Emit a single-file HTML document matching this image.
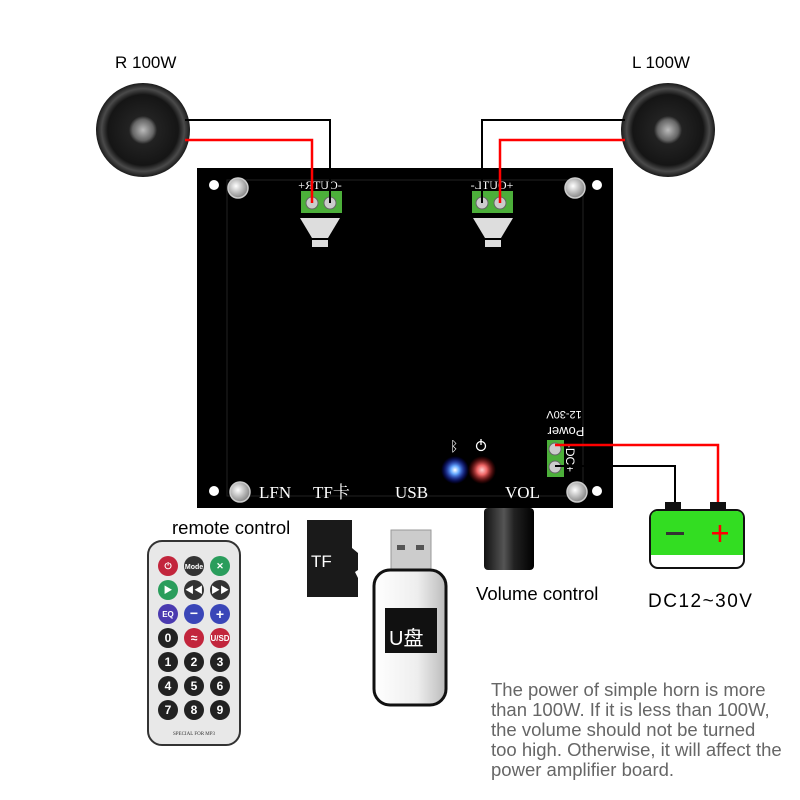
<!DOCTYPE html>
<html><head><meta charset="utf-8"><style>
html,body{margin:0;padding:0;background:#fff;}
svg{display:block}
text{font-family:"Liberation Sans","Noto Sans CJK SC",sans-serif;}
text.s{font-family:"Liberation Serif","Noto Serif CJK SC",serif;}
</style></head><body>
<svg width="800" height="800" viewBox="0 0 800 800" xmlns="http://www.w3.org/2000/svg">
<defs>
<radialGradient id="spk" cx="50%" cy="50%" r="50%">
<stop offset="0" stop-color="#bbb"/><stop offset="0.22" stop-color="#666"/><stop offset="0.3" stop-color="#222"/><stop offset="0.75" stop-color="#151515"/><stop offset="0.88" stop-color="#4a4a4a"/><stop offset="1" stop-color="#1a1a1a"/>
</radialGradient>
<radialGradient id="scr" cx="40%" cy="40%" r="60%"><stop offset="0" stop-color="#fff"/><stop offset="1" stop-color="#888"/></radialGradient>
<radialGradient id="blue" r="50%"><stop offset="0" stop-color="#fff"/><stop offset="0.3" stop-color="#6af"/><stop offset="1" stop-color="#00f" stop-opacity="0"/></radialGradient>
<radialGradient id="red" r="50%"><stop offset="0" stop-color="#fcc"/><stop offset="0.35" stop-color="#e66"/><stop offset="1" stop-color="#a00" stop-opacity="0"/></radialGradient>
<linearGradient id="knob" x1="0" x2="1"><stop offset="0" stop-color="#111"/><stop offset="0.4" stop-color="#555"/><stop offset="0.6" stop-color="#222"/><stop offset="1" stop-color="#000"/></linearGradient>
<linearGradient id="usb" x1="0" x2="1"><stop offset="0" stop-color="#fff"/><stop offset="0.6" stop-color="#eee"/><stop offset="1" stop-color="#bbb"/></linearGradient>
</defs>

<text x="115" y="68" font-size="17">R 100W</text>
<text x="632" y="68" font-size="17">L 100W</text>

<circle cx="143" cy="130" r="47" fill="url(#spk)"/>
<circle cx="668" cy="130" r="47" fill="url(#spk)"/>

<rect x="197" y="168" width="416" height="340" fill="#000"/>
<rect x="227" y="180" width="356" height="316" fill="none" stroke="#222" stroke-width="1"/>
<circle cx="214" cy="185" r="5" fill="#fff"/>
<circle cx="597" cy="185" r="5" fill="#fff"/>
<circle cx="214" cy="491" r="5" fill="#fff"/>
<circle cx="597" cy="491" r="5" fill="#fff"/>
<g fill="url(#scr)" stroke="#ccc" stroke-width="1.5">
<circle cx="238" cy="188" r="10"/><circle cx="575" cy="188" r="10"/><circle cx="240" cy="492" r="10"/><circle cx="577" cy="492" r="10"/>
</g>

<rect x="301" y="191" width="41" height="22" fill="#4caf3a"/>
<rect x="472" y="191" width="41" height="22" fill="#4caf3a"/>
<g fill="#ccc" stroke="#666"><circle cx="312" cy="203" r="6"/><circle cx="330" cy="203" r="6"/><circle cx="482" cy="203" r="6"/><circle cx="500" cy="203" r="6"/></g>
<polygon points="300,218 340,218 328,238 312,238" fill="#ddd"/>
<rect x="312" y="240" width="16" height="7" fill="#ddd"/>
<polygon points="473,218 513,218 501,238 485,238" fill="#ddd"/>
<rect x="485" y="240" width="16" height="7" fill="#ddd"/>
<text class="s" transform="translate(320,189) scale(-1,1)" font-size="12" fill="#fff" text-anchor="middle">-OUTR+</text>
<text class="s" transform="translate(492,189) scale(-1,1)" font-size="12" fill="#fff" text-anchor="middle">+OUTL-</text>

<polyline points="185,120 330,120 330,203" fill="none" stroke="#000" stroke-width="2"/>
<polyline points="185,140 312,140 312,203" fill="none" stroke="#f00" stroke-width="2.5"/>
<polyline points="625,120 482,120 482,203" fill="none" stroke="#000" stroke-width="2"/>
<polyline points="625,140 500,140 500,203" fill="none" stroke="#f00" stroke-width="2.5"/>

<rect x="547" y="440" width="17" height="37" fill="#4caf3a"/>
<circle cx="555" cy="449" r="6" fill="#ccc" stroke="#666"/>
<circle cx="555" cy="467" r="6" fill="#ccc" stroke="#666"/>
<text transform="translate(566,458) rotate(90)" font-size="12" fill="#fff" text-anchor="middle">-DC+</text>
<text transform="translate(566,427) rotate(180)" font-size="13" fill="#fff" text-anchor="middle">Power</text>
<text transform="translate(564,411) rotate(180)" font-size="11" fill="#fff" text-anchor="middle">12-30V</text>
<polyline points="555,445 718,445 718,505" fill="none" stroke="#f00" stroke-width="2.5"/>
<polyline points="555,466 675,466 675,505" fill="none" stroke="#000" stroke-width="2"/>

<circle cx="455" cy="470" r="14" fill="url(#blue)"/>
<circle cx="482" cy="470" r="14" fill="url(#red)"/>
<text x="450" y="451" font-size="14" fill="#fff">ᛒ</text>
<circle cx="481" cy="446" r="4.5" fill="none" stroke="#fff" stroke-width="1.3"/>
<line x1="481" y1="439" x2="481" y2="445" stroke="#fff" stroke-width="1.3"/>

<g font-size="17" fill="#fff">
<text class="s" x="259" y="498">LFN</text><text class="s" x="313" y="498">TF卡</text><text class="s" x="395" y="498">USB</text><text class="s" x="505" y="498">VOL</text>
</g>

<rect x="484" y="508" width="50" height="62" rx="4" fill="url(#knob)"/>
<text x="476" y="600" font-size="18.5">Volume control</text>

<rect x="665" y="502" width="16" height="10" fill="#111"/>
<rect x="710" y="502" width="16" height="10" fill="#111"/>
<rect x="650" y="510" width="94" height="58" rx="8" fill="#fff" stroke="#111" stroke-width="2"/>
<path d="M651,555 L651,518 Q651,511 658,511 L736,511 Q743,511 743,518 L743,555 Z" fill="#33dd22"/>
<rect x="666" y="532" width="18" height="3" fill="#333"/>
<rect x="712" y="532" width="16" height="2.5" fill="#f00"/>
<rect x="718.7" y="525" width="2.5" height="17" fill="#f00"/>
<text x="648" y="607" font-size="19" letter-spacing="1.5">DC12~30V</text>

<text x="172" y="534" font-size="18.5">remote control</text>
<rect x="148" y="541" width="92" height="204" rx="14" fill="#e8e8e8" stroke="#333" stroke-width="2"/>
<g font-size="9" font-weight="bold" fill="#fff" text-anchor="middle">
<circle cx="168" cy="566" r="10" fill="#c2253c"/><circle cx="194" cy="566" r="10" fill="#333"/><circle cx="220" cy="566" r="10" fill="#2a9d5c"/>
<circle cx="168" cy="590" r="10" fill="#2a9d5c"/><circle cx="194" cy="590" r="10" fill="#333"/><circle cx="220" cy="590" r="10" fill="#333"/>
<circle cx="168" cy="614" r="10" fill="#4b3ab0"/><circle cx="194" cy="614" r="10" fill="#3a46b8"/><circle cx="220" cy="614" r="10" fill="#3a46b8"/>
<circle cx="168" cy="638" r="10" fill="#222"/><circle cx="194" cy="638" r="10" fill="#c2253c"/><circle cx="220" cy="638" r="10" fill="#c2253c"/>
<circle cx="168" cy="662" r="10" fill="#222"/><circle cx="194" cy="662" r="10" fill="#222"/><circle cx="220" cy="662" r="10" fill="#222"/>
<circle cx="168" cy="686" r="10" fill="#222"/><circle cx="194" cy="686" r="10" fill="#222"/><circle cx="220" cy="686" r="10" fill="#222"/>
<circle cx="168" cy="710" r="10" fill="#222"/><circle cx="194" cy="710" r="10" fill="#222"/><circle cx="220" cy="710" r="10" fill="#222"/>
<text x="168" y="569">⏻</text><text x="194" y="569" font-size="7">Mode</text><text x="220" y="569">✕</text>
<text x="168" y="593">▶</text><text x="194" y="593">◀◀</text><text x="220" y="593">▶▶</text>
<text x="168" y="617" font-size="8">EQ</text><text x="194" y="618" font-size="14">−</text><text x="220" y="619" font-size="14">+</text>
<g font-size="12"><text x="168" y="642">0</text><text x="194" y="642">≈</text><text x="220" y="641" font-size="8">U/SD</text>
<text x="168" y="666">1</text><text x="194" y="666">2</text><text x="220" y="666">3</text>
<text x="168" y="690">4</text><text x="194" y="690">5</text><text x="220" y="690">6</text>
<text x="168" y="714">7</text><text x="194" y="714">8</text><text x="220" y="714">9</text></g>
</g>
<text class="s" x="194" y="735" font-size="5" fill="#333" text-anchor="middle">SPECIAL FOR MP3</text>

<path d="M307,520 L352,520 L352,548 L358,553 L358,570 L355,572 L358,578 L358,597 L307,597 Z" fill="#1a1a1a"/>
<text x="311" y="567" font-size="17" fill="#fff">TF</text>

<rect x="391" y="530" width="40" height="44" fill="#ccc" stroke="#999"/>
<rect x="397" y="545" width="8" height="5" fill="#555"/><rect x="416" y="545" width="8" height="5" fill="#555"/>
<rect x="374" y="570" width="72" height="135" rx="16" fill="url(#usb)" stroke="#111" stroke-width="3"/>
<rect x="385" y="608" width="52" height="45" fill="#111"/>
<text x="389" y="645" font-size="20" fill="#fff">U盘</text>

<g font-size="18.5" fill="#666">
<text x="491" y="696">The power of simple horn is more</text>
<text x="491" y="716">than 100W. If it is less than 100W,</text>
<text x="491" y="736">the volume should not be turned</text>
<text x="491" y="756">too high. Otherwise, it will affect the</text>
<text x="491" y="776">power amplifier board.</text>
</g>
</svg>
</body></html>
